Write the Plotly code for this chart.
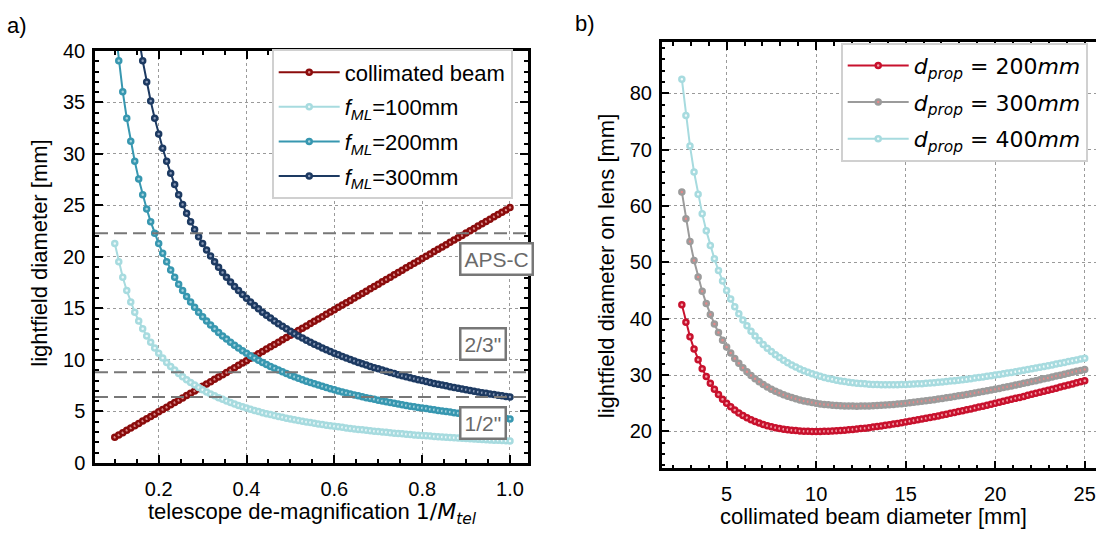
import plotly.graph_objects as go

# ---------------- panel a) : lightfield diameter vs. telescope de-magnification
inv_mag = [
    0.1, 0.1091, 0.1182, 0.1273, 0.1364, 0.1455, 0.1545, 0.1636, 0.1727, 0.1818, 0.1909,
    0.2, 0.2091, 0.2182, 0.2273, 0.2364, 0.2455, 0.2545, 0.2636, 0.2727, 0.2818, 0.2909,
    0.3, 0.3091, 0.3182, 0.3273, 0.3364, 0.3455, 0.3545, 0.3636, 0.3727, 0.3818, 0.3909,
    0.4, 0.4091, 0.4182, 0.4273, 0.4364, 0.4455, 0.4545, 0.4636, 0.4727, 0.4818, 0.4909,
    0.5, 0.5091, 0.5182, 0.5273, 0.5364, 0.5455, 0.5545, 0.5636, 0.5727, 0.5818, 0.5909,
    0.6, 0.6091, 0.6182, 0.6273, 0.6364, 0.6455, 0.6545, 0.6636, 0.6727, 0.6818, 0.6909,
    0.7, 0.7091, 0.7182, 0.7273, 0.7364, 0.7455, 0.7545, 0.7636, 0.7727, 0.7818, 0.7909,
    0.8, 0.8091, 0.8182, 0.8273, 0.8364, 0.8455, 0.8545, 0.8636, 0.8727, 0.8818, 0.8909,
    0.9, 0.9091, 0.9182, 0.9273, 0.9364, 0.9455, 0.9545, 0.9636, 0.9727, 0.9818, 0.9909,
    1.0,
]

collimated_beam = [
    2.48, 2.71, 2.93, 3.16, 3.38, 3.61, 3.83, 4.06, 4.28, 4.51, 4.73,
    4.96, 5.19, 5.41, 5.64, 5.86, 6.09, 6.31, 6.54, 6.76, 6.99, 7.21,
    7.44, 7.67, 7.89, 8.12, 8.34, 8.57, 8.79, 9.02, 9.24, 9.47, 9.69,
    9.92, 10.15, 10.37, 10.60, 10.82, 11.05, 11.27, 11.50, 11.72, 11.95, 12.17,
    12.40, 12.63, 12.85, 13.08, 13.30, 13.53, 13.75, 13.98, 14.20, 14.43, 14.65,
    14.88, 15.11, 15.33, 15.56, 15.78, 16.01, 16.23, 16.46, 16.68, 16.91, 17.13,
    17.36, 17.59, 17.81, 18.04, 18.26, 18.49, 18.71, 18.94, 19.16, 19.39, 19.61,
    19.84, 20.07, 20.29, 20.52, 20.74, 20.97, 21.19, 21.42, 21.64, 21.87, 22.09,
    22.32, 22.55, 22.77, 23.00, 23.22, 23.45, 23.67, 23.90, 24.12, 24.35, 24.57,
    24.80,
]

f_ml_100 = [
    21.30, 19.53, 18.02, 16.74, 15.62, 14.64, 13.78, 13.02, 12.33, 11.72, 11.16,
    10.65, 10.19, 9.76, 9.37, 9.01, 8.68, 8.37, 8.08, 7.81, 7.56, 7.32,
    7.10, 6.89, 6.69, 6.51, 6.33, 6.17, 6.01, 5.86, 5.71, 5.58, 5.45,
    5.33, 5.21, 5.09, 4.99, 4.88, 4.78, 4.69, 4.59, 4.51, 4.42, 4.34,
    4.26, 4.18, 4.11, 4.04, 3.97, 3.91, 3.84, 3.78, 3.72, 3.66, 3.60,
    3.55, 3.50, 3.45, 3.40, 3.35, 3.30, 3.25, 3.21, 3.17, 3.12, 3.08,
    3.04, 3.00, 2.97, 2.93, 2.89, 2.86, 2.82, 2.79, 2.76, 2.72, 2.69,
    2.66, 2.63, 2.60, 2.57, 2.55, 2.52, 2.49, 2.47, 2.44, 2.42, 2.39,
    2.37, 2.34, 2.32, 2.30, 2.27, 2.25, 2.23, 2.21, 2.19, 2.17, 2.15,
    2.13,
]

f_ml_200 = [
    42.60, 39.05, 36.05, 33.47, 31.24, 29.29, 27.56, 26.03, 24.66, 23.43, 22.31,
    21.30, 20.37, 19.53, 18.74, 18.02, 17.36, 16.74, 16.16, 15.62, 15.12, 14.64,
    14.20, 13.78, 13.39, 13.02, 12.66, 12.33, 12.02, 11.72, 11.43, 11.16, 10.90,
    10.65, 10.41, 10.19, 9.97, 9.76, 9.56, 9.37, 9.19, 9.01, 8.84, 8.68,
    8.52, 8.37, 8.22, 8.08, 7.94, 7.81, 7.68, 7.56, 7.44, 7.32, 7.21,
    7.10, 6.99, 6.89, 6.79, 6.69, 6.60, 6.51, 6.42, 6.33, 6.25, 6.17,
    6.09, 6.01, 5.93, 5.86, 5.79, 5.71, 5.65, 5.58, 5.51, 5.45, 5.39,
    5.33, 5.27, 5.21, 5.15, 5.09, 5.04, 4.99, 4.93, 4.88, 4.83, 4.78,
    4.73, 4.69, 4.64, 4.59, 4.55, 4.51, 4.46, 4.42, 4.38, 4.34, 4.30,
    4.26,
]

f_ml_300 = [
    63.90, 58.58, 54.07, 50.21, 46.86, 43.93, 41.35, 39.05, 36.99, 35.15, 33.47,
    31.95, 30.56, 29.29, 28.12, 27.03, 26.03, 25.10, 24.24, 23.43, 22.67, 21.97,
    21.30, 20.67, 20.08, 19.53, 19.00, 18.50, 18.02, 17.57, 17.14, 16.74, 16.35,
    15.98, 15.62, 15.28, 14.96, 14.64, 14.34, 14.06, 13.78, 13.52, 13.26, 13.02,
    12.78, 12.55, 12.33, 12.12, 11.91, 11.72, 11.52, 11.34, 11.16, 10.98, 10.81,
    10.65, 10.49, 10.34, 10.19, 10.04, 9.90, 9.76, 9.63, 9.50, 9.37, 9.25,
    9.13, 9.01, 8.90, 8.79, 8.68, 8.57, 8.47, 8.37, 8.27, 8.17, 8.08,
    7.99, 7.90, 7.81, 7.72, 7.64, 7.56, 7.48, 7.40, 7.32, 7.25, 7.17,
    7.10, 7.03, 6.96, 6.89, 6.82, 6.76, 6.69, 6.63, 6.57, 6.51, 6.45,
    6.39,
]

# sensor widths [mm] drawn as dashed reference lines
sensor_names = ["APS-C", "2/3\"", "1/2\""]
sensor_widths = [22.3, 8.8, 6.4]

# ---------------- panel b) : lightfield diameter on lens vs. beam diameter
beam_diameter = [
    2.5, 2.7273, 2.9545, 3.1818, 3.4091, 3.6364, 3.8636, 4.0909, 4.3182, 4.5455, 4.7727,
    5.0, 5.2273, 5.4545, 5.6818, 5.9091, 6.1364, 6.3636, 6.5909, 6.8182, 7.0455, 7.2727,
    7.5, 7.7273, 7.9545, 8.1818, 8.4091, 8.6364, 8.8636, 9.0909, 9.3182, 9.5455, 9.7727,
    10.0, 10.2273, 10.4545, 10.6818, 10.9091, 11.1364, 11.3636, 11.5909, 11.8182, 12.0455, 12.2727,
    12.5, 12.7273, 12.9545, 13.1818, 13.4091, 13.6364, 13.8636, 14.0909, 14.3182, 14.5455, 14.7727,
    15.0, 15.2273, 15.4545, 15.6818, 15.9091, 16.1364, 16.3636, 16.5909, 16.8182, 17.0455, 17.2727,
    17.5, 17.7273, 17.9545, 18.1818, 18.4091, 18.6364, 18.8636, 19.0909, 19.3182, 19.5455, 19.7727,
    20.0, 20.2273, 20.4545, 20.6818, 20.9091, 21.1364, 21.3636, 21.5909, 21.8182, 22.0455, 22.2727,
    22.5, 22.7273, 22.9545, 23.1818, 23.4091, 23.6364, 23.8636, 24.0909, 24.3182, 24.5455, 24.7727,
    25.0,
]

d_prop_200 = [
    42.50, 39.39, 36.80, 34.61, 32.74, 31.14, 29.75, 28.54, 27.48, 26.55, 25.72,
    25.00, 24.36, 23.79, 23.28, 22.83, 22.43, 22.08, 21.76, 21.49, 21.24, 21.02,
    20.83, 20.67, 20.53, 20.40, 20.30, 20.22, 20.15, 20.09, 20.05, 20.02, 20.01,
    20.00, 20.01, 20.02, 20.04, 20.08, 20.12, 20.16, 20.22, 20.28, 20.35, 20.42,
    20.50, 20.58, 20.67, 20.77, 20.87, 20.97, 21.08, 21.19, 21.30, 21.42, 21.54,
    21.67, 21.79, 21.93, 22.06, 22.20, 22.33, 22.47, 22.62, 22.76, 22.91, 23.06,
    23.21, 23.37, 23.52, 23.68, 23.84, 24.00, 24.16, 24.33, 24.49, 24.66, 24.83,
    25.00, 25.17, 25.34, 25.52, 25.69, 25.87, 26.04, 26.22, 26.40, 26.58, 26.76,
    26.94, 27.13, 27.31, 27.50, 27.68, 27.87, 28.05, 28.24, 28.43, 28.62, 28.81,
    29.00,
]

d_prop_300 = [
    62.50, 57.73, 53.72, 50.32, 47.41, 44.89, 42.69, 40.76, 39.06, 37.55, 36.20,
    35.00, 33.92, 32.95, 32.08, 31.29, 30.58, 29.93, 29.35, 28.82, 28.34, 27.90,
    27.50, 27.14, 26.81, 26.52, 26.25, 26.00, 25.79, 25.59, 25.42, 25.26, 25.12,
    25.00, 24.89, 24.80, 24.72, 24.66, 24.61, 24.56, 24.53, 24.51, 24.50, 24.49,
    24.50, 24.51, 24.53, 24.56, 24.60, 24.64, 24.68, 24.74, 24.79, 24.86, 24.93,
    25.00, 25.08, 25.16, 25.25, 25.34, 25.43, 25.53, 25.63, 25.74, 25.85, 25.96,
    26.07, 26.19, 26.31, 26.43, 26.56, 26.69, 26.82, 26.95, 27.08, 27.22, 27.36,
    27.50, 27.64, 27.79, 27.93, 28.08, 28.23, 28.38, 28.54, 28.69, 28.85, 29.01,
    29.17, 29.33, 29.49, 29.65, 29.82, 29.98, 30.15, 30.32, 30.49, 30.66, 30.83,
    31.00,
]

d_prop_400 = [
    82.50, 76.06, 70.65, 66.04, 62.08, 58.64, 55.63, 52.98, 50.63, 48.55, 46.68,
    45.00, 43.49, 42.12, 40.88, 39.76, 38.73, 37.79, 36.94, 36.15, 35.43, 34.77,
    34.17, 33.61, 33.10, 32.63, 32.19, 31.79, 31.43, 31.09, 30.78, 30.50, 30.24,
    30.00, 29.78, 29.58, 29.40, 29.24, 29.10, 28.96, 28.85, 28.74, 28.65, 28.57,
    28.50, 28.44, 28.39, 28.35, 28.32, 28.30, 28.29, 28.28, 28.29, 28.30, 28.31,
    28.33, 28.36, 28.40, 28.44, 28.48, 28.53, 28.59, 28.65, 28.71, 28.78, 28.85,
    28.93, 29.01, 29.09, 29.18, 29.27, 29.37, 29.47, 29.57, 29.67, 29.78, 29.89,
    30.00, 30.12, 30.23, 30.35, 30.47, 30.60, 30.73, 30.85, 30.99, 31.12, 31.25,
    31.39, 31.53, 31.67, 31.81, 31.95, 32.10, 32.24, 32.39, 32.54, 32.69, 32.85,
    33.00,
]

W, H = 1096, 542
SANS = "Liberation Sans"
MATH = "DejaVu Sans"


def px_x(p):
    return p / W


def px_y(p):
    return 1 - p / H


fig = go.Figure()


def add_series(x, y, name, line_col, face_col, xa, ya, legend):
    fig.add_trace(go.Scatter(
        x=x, y=y, name=name, mode="lines+markers",
        xaxis=xa, yaxis=ya, legend=legend, legendgroup=name,
        line=dict(color=line_col, width=2),
        marker=dict(symbol="circle", size=5, color=face_col,
                    line=dict(color=line_col, width=2.5)),
    ))


# panel a)
add_series(inv_mag, collimated_beam, "collimated beam", "#8b0c0c", "#d98c8c", "x", "y", "legend")
add_series(inv_mag, f_ml_100, "<i>f</i><sub><i>ML</i></sub>=100mm", "#a7dbdf", "#eef9fa", "x", "y", "legend")
add_series(inv_mag, f_ml_200, "<i>f</i><sub><i>ML</i></sub>=200mm", "#3797b0", "#a7d3de", "x", "y", "legend")
add_series(inv_mag, f_ml_300, "<i>f</i><sub><i>ML</i></sub>=300mm", "#1d3a62", "#8c9cb8", "x", "y", "legend")

# panel b)
add_series(beam_diameter, d_prop_200, "<i>d</i><sub><i>prop</i></sub> = 200<i>mm</i>", "#c8112d", "#f2a0aa", "x2", "y2", "legend2")
add_series(beam_diameter, d_prop_300, "<i>d</i><sub><i>prop</i></sub> = 300<i>mm</i>", "#9b9b9b", "#e58a8a", "x2", "y2", "legend2")
add_series(beam_diameter, d_prop_400, "<i>d</i><sub><i>prop</i></sub> = 400<i>mm</i>", "#a7dbdf", "#f2fbfb", "x2", "y2", "legend2")

# sensor reference lines with boxed labels
label_shift = [-26, 28, -26]
for name, width, dy in zip(sensor_names, sensor_widths, label_shift):
    fig.add_shape(type="line", xref="x domain", yref="y", x0=0, x1=1, y0=width, y1=width,
                  line=dict(color="#777777", width=2.2, dash="13px,6px"), layer="above")
    fig.add_annotation(xref="x", yref="y", x=0.884, y=width, yshift=dy, text=name,
                       showarrow=False, xanchor="left", yanchor="middle",
                       font=dict(family=SANS, size=21, color="#6a6a6a"),
                       bgcolor="white", bordercolor="#777777", borderwidth=2.5, borderpad=3)

axis_common = dict(
    showline=True, linewidth=2.5, linecolor="black",
    ticks="inside", ticklen=8, tickwidth=2, tickcolor="black",
    showgrid=True, gridcolor="#9a9a9a", gridwidth=1, griddash="dot",
    zeroline=False, tickfont=dict(family=SANS, size=20, color="black"),
)
minor_common = dict(ticks="inside", ticklen=4, tickwidth=1.5, tick0=0,
                    tickcolor="black", showgrid=False)

fig.update_layout(
    width=W, height=H,
    margin=dict(l=0, r=0, t=0, b=0),
    paper_bgcolor="white", plot_bgcolor="white",
    font=dict(family=SANS, size=20, color="black"),
    xaxis=dict(axis_common, domain=[px_x(95), px_x(528)], range=[0.055, 1.041],
               dtick=0.2, tick0=0, tickformat=".1f", mirror="allticks", anchor="y",
               ticklabelstandoff=6, minor=dict(minor_common, dtick=0.05)),
    yaxis=dict(axis_common, domain=[px_y(471), px_y(41.7)], range=[0, 40],
               dtick=5, tick0=0, mirror="allticks", anchor="x",
               ticklabelstandoff=3, minor=dict(minor_common, dtick=1)),
    xaxis2=dict(axis_common, domain=[px_x(661.7), 1.0], range=[1.375, 25.63],
                dtick=5, tick0=0, mirror="allticks", anchor="y2",
                ticklabelstandoff=6, minor=dict(minor_common, dtick=1)),
    yaxis2=dict(axis_common, domain=[px_y(476.7), px_y(32.3)], range=[13.45, 89.1],
                dtick=10, tick0=0, mirror=False, anchor="x2",
                ticklabelstandoff=3, minor=dict(minor_common, dtick=2)),
    legend=dict(x=px_x(271.7), y=px_y(40), xanchor="left", yanchor="top",
                bgcolor="white", bordercolor="#d0d0d0", borderwidth=2,
                font=dict(family=SANS, size=22, color="black"),
                itemwidth=61, tracegroupgap=3),
    legend2=dict(x=px_x(840.7), y=px_y(33), xanchor="left", yanchor="top",
                 bgcolor="white", bordercolor="#d0d0d0", borderwidth=2,
                 font=dict(family=MATH, size=22, color="black"),
                 itemwidth=61, tracegroupgap=5),
)

# panel letters and axis titles
math_tel = "<span style='font-family:DejaVu Sans'>1/<i>M</i><sub><i>tel</i></sub></span>"
texts = [
    ("a)", 17, 15, 0, SANS, 22),
    ("b)", 585, 13, 0, SANS, 22),
    ("lightfield diameter [mm]", 40, 253, -90, SANS, 22),
    ("telescope de-magnification " + math_tel, 312, 524, 0, SANS, 22),
    ("lightfield diameter on lens [mm]", 606, 266, -90, SANS, 22),
    ("collimated beam diameter [mm]", 873, 527, 0, SANS, 22),
]
for txt, cx, cy, ang, fam, size in texts:
    fig.add_annotation(xref="paper", yref="paper", x=px_x(cx), y=px_y(cy), text=txt,
                       showarrow=False, xanchor="center", yanchor="middle", textangle=ang,
                       font=dict(family=fam, size=size, color="black"))

fig.write_html("out.html")
